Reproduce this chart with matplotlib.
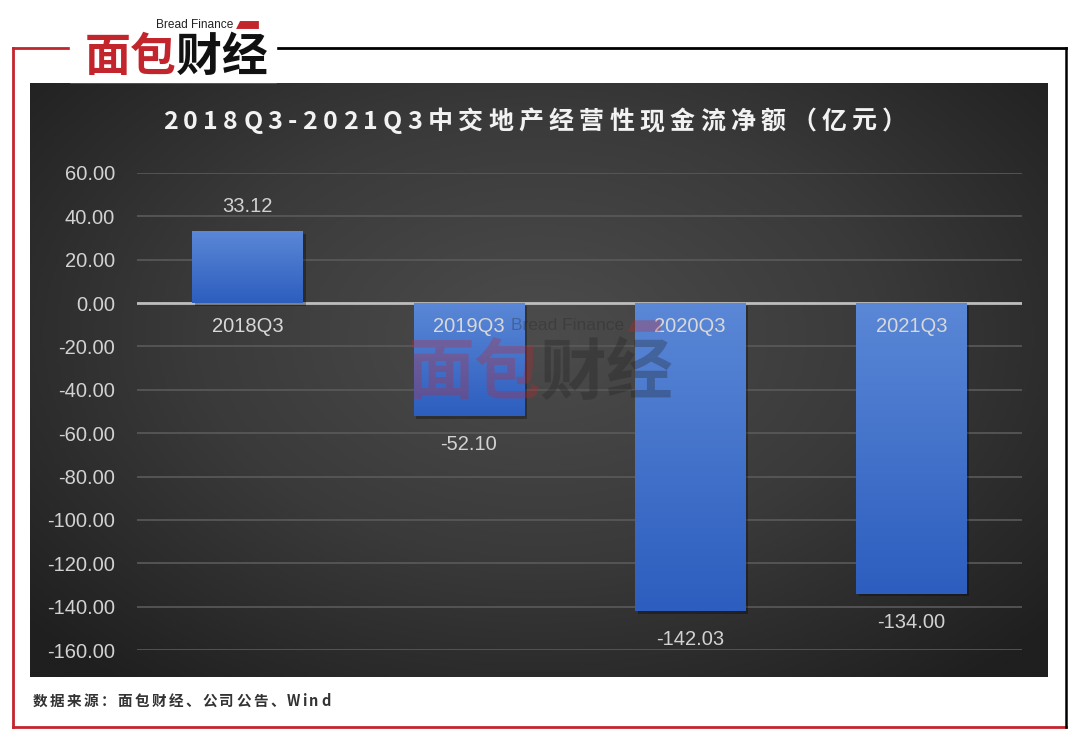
import numpy as np
import matplotlib
matplotlib.use('Agg')
import matplotlib.pyplot as plt
import matplotlib.patheffects as pe
from matplotlib.colors import LinearSegmentedColormap
from matplotlib.patches import Polygon

plt.rcParams['font.family'] = ['Liberation Sans', 'Noto Sans CJK SC', 'DejaVu Sans']

# data
categories = ['2018Q3', '2019Q3', '2020Q3', '2021Q3']
values = [33.12, -52.10, -142.03, -134.00]
yticks = [60, 40, 20, 0, -20, -40, -60, -80, -100, -120, -140, -160]
title = '2018Q3-2021Q3中交地产经营性现金流净额（亿元）'
source = '数据来源：面包财经、公司公告、Wind'

W, H = 1080, 740
fig = plt.figure(figsize=(W / 100, H / 100), dpi=100)
fig.patch.set_facecolor('white')

# pixel-space overlay for frame + background panel
bg = fig.add_axes([0, 0, 1, 1], zorder=0)
bg.set_xlim(0, W)
bg.set_ylim(H, 0)
bg.axis('off')

# radial dark gradient panel
px0, px1, py0, py1 = 30, 1048, 83, 677
gx, gy = np.meshgrid(np.linspace(-1, 1, 400), np.linspace(-1, 1, 240))
r = np.sqrt(gx ** 2 + ((gy + 0.15) * 0.9) ** 2)
panel_cmap = LinearSegmentedColormap.from_list('panel', ['#4c4c4c', '#3a3a3a', '#1f1f1f'])
bg.imshow(np.clip(r / 1.35, 0, 1), cmap=panel_cmap, vmin=0, vmax=1,
          extent=[px0, px1, py1, py0], aspect='auto', zorder=1)

red = '#c3252d'
bg.plot([13, 13], [48, 727], color=red, lw=2, zorder=2)
bg.plot([13, 72], [48, 48], color=red, lw=2, zorder=2)
bg.plot([13, 1066], [727, 727], color=red, lw=2, zorder=2)
bg.plot([275, 1066], [48, 48], color='black', lw=2, zorder=2)
bg.plot([1066, 1066], [48, 727], color='black', lw=1.8, zorder=2)


def logo(cx, cy, size, alpha, zorder, dark='#111111'):
    # 面包财经 wordmark
    fig_y = lambda y: 1 - y / H
    fig_x = lambda x: x / W
    step = size * 1.38
    x = cx - 2 * step
    for i, ch in enumerate('面包财经'):
        fig.text(fig_x(x + (i + 0.5) * step), fig_y(cy), ch, fontsize=size,
                 family='Noto Sans CJK SC', weight='black',
                 color=red if i < 2 else dark, alpha=alpha,
                 ha='center', va='center', zorder=zorder)
    bx = cx + 1.32 * step
    by = cy - size * 1.0
    fig.text(fig_x(bx - 3), fig_y(by), 'Bread Finance',
             fontsize=size * 0.26, color='#222222', alpha=alpha,
             ha='right', va='center', zorder=zorder)
    hgt = size * 0.12
    poly = Polygon([[fig_x(bx), fig_y(by + hgt)], [fig_x(bx + hgt), fig_y(by - hgt)],
                    [fig_x(bx + 0.5 * step), fig_y(by - hgt)],
                    [fig_x(bx + 0.5 * step), fig_y(by + hgt)]],
                   closed=True, transform=fig.transFigure, facecolor=red,
                   edgecolor='none', alpha=alpha, zorder=zorder)
    fig.patches.append(poly)


# white box behind the header logo
bg.fill_between([70, 276], 10, 82, color='white', zorder=3)
logo(176, 58, 33, 1.0, 5)

# main chart axes
ax = fig.add_axes([137 / W, (H - 650) / H, (1022 - 137) / W, 477 / H], zorder=1)
ax.patch.set_alpha(0)
for s in ax.spines.values():
    s.set_visible(False)

x = np.arange(len(categories))
bars = ax.bar(x, values, width=0.5, color='#3565c5', zorder=3,
              path_effects=[pe.SimplePatchShadow(offset=(2, -2), shadow_rgbFace='black', alpha=0.3),
                            pe.Normal()])

bar_cmap = LinearSegmentedColormap.from_list('bar', ['#5a87d6', '#2d5ebf'])
grad = np.linspace(0, 1, 100).reshape(-1, 1)
for b in bars:
    x0, y0 = b.get_x(), b.get_y()
    bw, bh = b.get_width(), b.get_height()
    lo, hi = min(y0, y0 + bh), max(y0, y0 + bh)
    im = ax.imshow(grad, cmap=bar_cmap, extent=[x0, x0 + bw, lo, hi],
                   aspect='auto', origin='upper', zorder=3.5)
    im.set_clip_path(b)

ax.set_xlim(-0.5, len(categories) - 0.5)
ax.set_ylim(-160, 60)
ax.set_yticks(yticks)
ax.set_yticklabels([f'{v:.2f}' for v in yticks])
ax.set_xticks([])
ax.tick_params(axis='y', length=0, pad=16, labelsize=14.5, labelcolor='#d2d2d2')
ax.grid(axis='y', color='#5a5a5a', lw=1.2, zorder=1)
ax.axhline(0, color='#bdbdbd', lw=2, zorder=2)

for xi, v, c in zip(x, values, categories):
    ax.annotate(f'{v:.2f}', (xi, v), xytext=(0, 11 if v > 0 else -14),
                textcoords='offset points', ha='center',
                va='bottom' if v > 0 else 'top', fontsize=14.5, color='#d2d2d2', zorder=5)
    ax.annotate(c, (xi, 0), xytext=(0, -17), textcoords='offset points',
                ha='center', va='center', fontsize=14.5, color='#d8d8d8', zorder=5)


def spaced_text(s, x0, y0, spacing, **kw):
    # draws the string char by char with extra tracking (pixel coords)
    fig.canvas.draw()
    rend = fig.canvas.get_renderer()
    cur = x0
    for ch in s:
        t = fig.text(cur / W, 1 - y0 / H, ch, va='center', ha='left', **kw)
        cur += t.get_window_extent(rend).width + spacing
    return cur


def text_width(s, spacing, **kw):
    fig.canvas.draw()
    rend = fig.canvas.get_renderer()
    tot = 0
    for ch in s:
        t = fig.text(0, 0, ch, **kw)
        tot += t.get_window_extent(rend).width + spacing
        t.remove()
    return tot - spacing


tkw = dict(fontsize=18, color='#f2f2f2', weight='bold',
           family=['Noto Sans CJK SC', 'DejaVu Sans'], zorder=6)
tw = text_width(title, 5.3, **tkw)
spaced_text(title, 535 - tw / 2, 122, 5.3, **tkw)

skw = dict(fontsize=10.5, color='#333333', weight='bold',
           family=['Noto Sans CJK SC', 'DejaVu Sans'], zorder=6)
spaced_text(source, 33, 701, 2.3, **skw)

# watermark
logo(540, 374, 48, 0.3, 7, dark='#202020')

fig.savefig('out.png', dpi=100, facecolor='white')
